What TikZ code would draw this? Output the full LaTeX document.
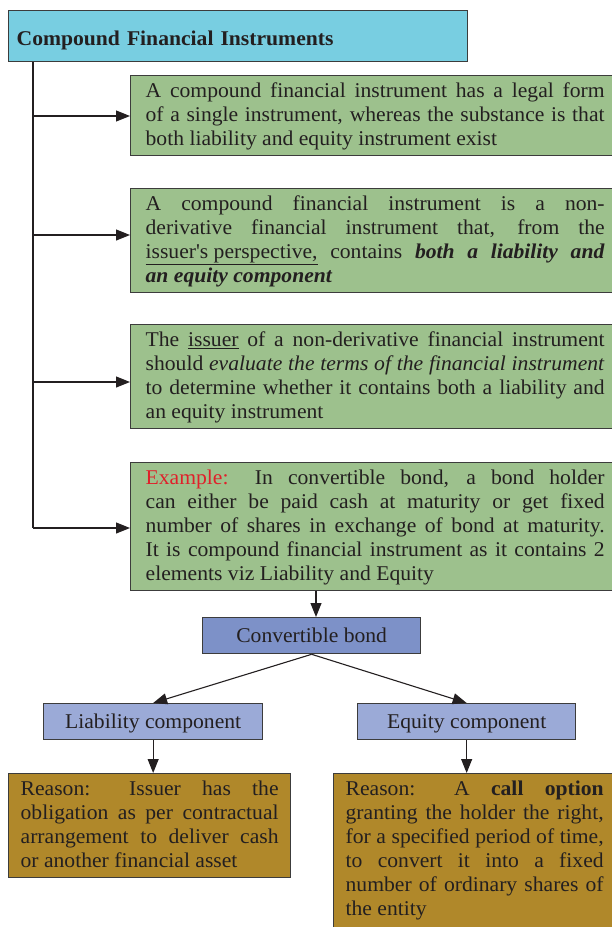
\documentclass[tikz,border=0pt]{standalone}
\usepackage{fontspec}
\setmainfont[FakeStretch=1.03]{Liberation Serif}
\usetikzlibrary{arrows.meta}
\definecolor{ink}{HTML}{231F20}
\definecolor{edge}{HTML}{3C3C3C}
\definecolor{titlefill}{HTML}{78CEE1}
\definecolor{gfill}{HTML}{9DC18D}
\definecolor{cbfill}{HTML}{7D91C8}
\definecolor{lbfill}{HTML}{9BAAD7}
\definecolor{goldfill}{HTML}{B0882A}
\definecolor{exred}{HTML}{E0202A}
\newcommand{\myTop}{\rule{0pt}{16pt}}
\newcommand{\myBot}{\rule[-5pt]{0pt}{5pt}}
\begin{document}
\begin{tikzpicture}[x=1pt,y=-1pt,
  txt/.style={font=\fontsize{21}{24}\selectfont, text=ink},
  box/.style={draw=edge, line width=1.3pt, txt, anchor=north west,
    execute at begin node={\tolerance=10000\hbadness=10000}},
  gbox/.style={box, fill=gfill, text width=459pt, align=justify, inner xsep=15pt, inner ysep=5.5pt},
  rbox/.style={box, fill=goldfill, text width=258pt, align=justify, inner xsep=12pt, inner ysep=5.5pt},
  lbox/.style={box, inner sep=0pt, minimum height=36pt, text height=14pt, text depth=0pt},
  arr/.style={draw=ink, line width=1.1pt, -{Triangle[length=14pt,width=11pt]}}
]
\useasboundingbox (0,0) rectangle (611,927);

% title
\node[box, fill=titlefill, text width=443pt, align=left, inner xsep=8pt, inner ysep=0pt,
  minimum height=51pt, font=\fontsize{21}{24}\selectfont\bfseries] (title) at (8,10)
  {\rule[-5pt]{0pt}{29pt}Compound Financial Instruments};

% green boxes
\node[gbox] (b1) at (130,75) {\myTop A compound financial instrument has a legal form\linebreak
of a single instrument, whereas the substance is that\linebreak
both liability and equity instrument exist\myBot};

\node[gbox] (b2) at (130,188) {\myTop A compound financial instrument is a non-\linebreak
derivative financial instrument that, from the\linebreak
\underline{issuer\textquotesingle s perspective,} contains \textbf{\textit{both a liability and}}\linebreak
\textbf{\textit{an equity component}}\myBot};

\node[gbox] (b3) at (130,324) {\myTop The \underline{issuer} of a non-derivative financial instrument\linebreak
should \textit{evaluate the terms of the financial instrument}\linebreak
to determine whether it contains both a liability and\linebreak
an equity instrument\myBot};

\node[gbox] (b4) at (130,462) {\myTop\textcolor{exred}{Example:} In convertible bond, a bond holder\linebreak
can either be paid cash at maturity or get fixed\linebreak
number of shares in exchange of bond at maturity.\linebreak
It is compound financial instrument as it contains 2\linebreak
elements viz Liability and Equity\myBot};

% trunk and branch arrows
\coordinate (t) at (33,0);
\coordinate (j1) at (33,116);
\coordinate (j2) at (33,235);
\coordinate (j3) at (33,382);
\coordinate (j4) at (33,528);
\draw[draw=ink, line width=1.1pt] (title.south -| t) -- (j4);
\draw[arr] (j1) -- (j1 -| b1.west);
\draw[arr] (j2) -- (j2 -| b2.west);
\draw[arr] (j3) -- (j3 -| b3.west);
\draw[arr] (j4) -- (j4 -| b4.west);

% convertible bond and components
\node[lbox, fill=cbfill, minimum width=218pt] (cb) at (202,617) {Convertible bond};
\node[lbox, fill=lbfill, minimum width=219pt] (liab) at (43,703) {Liability component};
\node[lbox, fill=lbfill, minimum width=218pt] (eq) at (357,703) {Equity component};

\coordinate (k) at (316,0);
\draw[arr] (b4.south -| k) -- (cb.north -| k);
\draw[arr] (cb.south) -- (liab.north);
\draw[arr] (cb.south) -- (eq.north);

% reason boxes
\node[rbox] (rl) at (8,773) {\myTop Reason: Issuer has the\linebreak
obligation as per contractual\linebreak
arrangement to deliver cash\linebreak
or another financial asset\myBot};

\node[rbox] (rr) at (333,773) {\myTop Reason: A \textbf{call option}\linebreak
granting the holder the right,\linebreak
for a specified period of time,\linebreak
to convert it into a fixed\linebreak
number of ordinary shares of\linebreak
the entity\rule[-40pt]{0pt}{40pt}};

\draw[arr] (liab.south) -- (liab.south |- rl.north);
\draw[arr] (eq.south) -- (eq.south |- rr.north);
\end{tikzpicture}
\end{document}
